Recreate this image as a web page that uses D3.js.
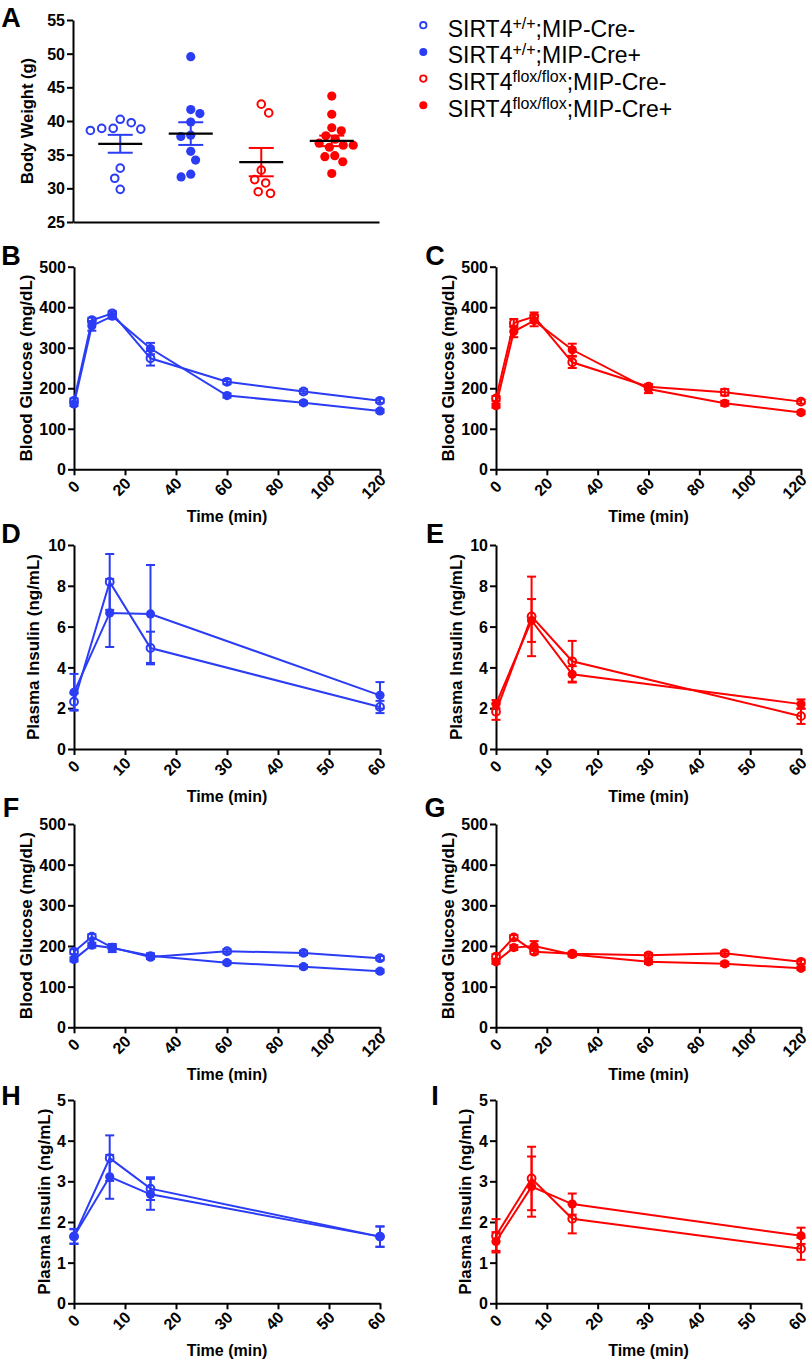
<!DOCTYPE html>
<html><head><meta charset="utf-8">
<script src="https://cdn.jsdelivr.net/npm/d3@7"></script>
<style>
body{margin:0;background:#fff;}
svg{display:block;font-family:"Liberation Sans",Arial,Helvetica,sans-serif;}
</style></head><body>
<svg id="chart" width="812" height="1365"></svg>
<script>
// ---------------- DATA ----------------
const groupNames = ["WT Cre-", "WT Cre+", "flox Cre-", "flox Cre+"];
const legendBase = ["SIRT4", "SIRT4", "SIRT4", "SIRT4"];
const legendSup  = ["+/+", "+/+", "flox/flox", "flox/flox"];
const legendTail = [";MIP-Cre-", ";MIP-Cre+", ";MIP-Cre-", ";MIP-Cre+"];

// Panel A body weight (g)
const bwWTCreNeg = [40.25, 39.75, 38.9, 38.6, 38.8, 38.9, 33.0, 31.5, 29.85];
const bwWTCrePos = [49.55, 41.1, 41.7, 39.85, 37.7, 37.9, 35.5, 34.2, 31.7, 32.1];
const bwFlCreNeg = [42.5, 41.2, 32.7, 30.8, 31.3, 29.25, 29.5];
const bwFlCrePos = [43.7, 41.0, 39.0, 38.55, 37.3, 37.8, 36.7, 36.4, 36.4, 36.1, 34.85, 34.7, 33.95, 32.2];
const bwTicks = [25, 30, 35, 40, 45, 50, 55];

// time points
const glucoseTime = [0, 7, 15, 30, 60, 90, 120];
const insulinTime = [0, 7, 15, 60];
const glucoseXTicks = [0, 20, 40, 60, 80, 100, 120];
const insulinXTicks = [0, 10, 20, 30, 40, 50, 60];
const glucoseYTicks = [0, 100, 200, 300, 400, 500];
const insulinYTicks10 = [0, 2, 4, 6, 8, 10];
const insulinYTicks5 = [0, 1, 2, 3, 4, 5];

// B: blood glucose, SIRT4+/+
const bOpenMean = [169, 368, 385, 274, 216, 192, 169];
const bOpenSem  = [6, 6, 5, 18, 6, 5, 5];
const bFillMean = [161, 354, 378, 298, 182, 164, 144];
const bFillSem  = [5, 12, 6, 14, 5, 4, 4];
// C: blood glucose, SIRT4flox/flox
const cOpenMean = [175, 361, 377, 264, 204, 190, 167];
const cOpenSem  = [6, 10, 10, 14, 6, 8, 5];
const cFillMean = [157, 340, 367, 295, 198, 163, 140];
const cFillSem  = [5, 14, 14, 15, 10, 6, 4];
// D: plasma insulin, SIRT4+/+
const dOpenMean = [2.32, 8.19, 4.95, 2.06];
const dOpenSem  = [0.4, 1.37, 0.8, 0.3];
const dFillMean = [2.78, 6.67, 6.62, 2.63];
const dFillSem  = [0.9, 1.67, 2.4, 0.65];
// E: plasma insulin, SIRT4flox/flox
const eOpenMean = [1.83, 6.5, 4.3, 1.61];
const eOpenSem  = [0.4, 1.95, 1.0, 0.38];
const eFillMean = [2.2, 6.3, 3.66, 2.2];
const eFillSem  = [0.2, 1.05, 0.4, 0.23];
// F: blood glucose, SIRT4+/+
const fOpenMean = [186, 223, 196, 173, 187, 183, 170];
const fOpenSem  = [6, 6, 5, 5, 5, 5, 5];
const fFillMean = [167, 202, 195, 176, 159, 149, 138];
const fFillSem  = [5, 6, 10, 6, 4, 4, 4];
// G: blood glucose, SIRT4flox/flox
const gOpenMean = [174, 221, 186, 181, 177, 182, 161];
const gOpenSem  = [6, 6, 6, 5, 5, 5, 5];
const gFillMean = [161, 196, 200, 179, 161, 156, 145];
const gFillSem  = [5, 6, 12, 5, 5, 5, 4];
// H: plasma insulin, SIRT4+/+
const hOpenMean = [1.64, 3.57, 2.82, 1.64];
const hOpenSem  = [0.18, 0.56, 0.28, 0.25];
const hFillMean = [1.65, 3.11, 2.68, 1.64];
const hFillSem  = [0.18, 0.54, 0.38, 0.25];
// I: plasma insulin, SIRT4flox/flox
const iOpenMean = [1.66, 3.07, 2.08, 1.34];
const iOpenSem  = [0.41, 0.78, 0.36, 0.27];
const iFillMean = [1.52, 2.87, 2.44, 1.66];
const iFillSem  = [0.23, 0.74, 0.26, 0.2];

// ---------------- STYLE / LAYOUT ----------------
const BLUE = "#2b3cf5", RED = "#ff0000";
const FONT = "'Liberation Sans', Arial, Helvetica, sans-serif";
const fmt = d3.format("d");
const svg = d3.select("#chart");
svg.append("rect").attr("width", 812).attr("height", 1365).attr("fill", "#fff");

function styleAxis(g) {
  g.attr("font-family", FONT).attr("font-size", 16).attr("font-weight", "bold");
  g.select(".domain").attr("stroke", "#000").attr("stroke-width", 2);
  g.selectAll(".tick line").attr("stroke", "#000").attr("stroke-width", 2);
  g.selectAll(".tick text").attr("fill", "#000");
}

function panelLetter(letter, x, y) {
  svg.append("text").attr("x", x).attr("y", y).attr("text-anchor", "middle")
    .attr("font-family", FONT).attr("font-weight", "bold").attr("font-size", 27)
    .attr("fill", "#000").text(letter);
}

function yTitle(text, x, y, size) {
  svg.append("text").attr("transform", `translate(${x},${y}) rotate(-90)`)
    .attr("text-anchor", "middle").attr("font-family", FONT).attr("font-weight", "bold")
    .attr("font-size", size).attr("fill", "#000").text(text);
}

// ---------------- PANEL A ----------------
const A = { x0: 73, x1: 379, yTop: 20, yBot: 222 };
const yA = d3.scaleLinear().domain([25, 55]).range([A.yBot, A.yTop]);
const xA = d3.scalePoint().domain(groupNames).range([A.x0, A.x1]).padding(0.67);

const gAy = svg.append("g").attr("transform", `translate(${A.x0},0)`)
  .call(d3.axisLeft(yA).tickValues(bwTicks).tickFormat(fmt).tickSize(6).tickPadding(2).tickSizeOuter(0));
styleAxis(gAy);
gAy.selectAll(".tick text").attr("dy", "0.35em");
const gAx = svg.append("g").attr("transform", `translate(0,${A.yBot})`)
  .call(d3.axisBottom(xA).tickSize(0).tickFormat("").tickSizeOuter(0));
styleAxis(gAx);

yTitle("Body Weight (g)", 33, (A.yTop + A.yBot) / 2, 16.5);
panelLetter("A", 11, 27);

function swarm(vals, ys, D) {
  const idx = d3.range(vals.length).sort((a, b) => ys(vals[a]) - ys(vals[b]));
  const placed = [];
  const off = new Array(vals.length).fill(0);
  let toggle = 1;
  for (const i of idx) {
    const y = ys(vals[i]);
    const intervals = [];
    for (const p of placed) {
      const dy = Math.abs(p.y - y);
      if (dy < D) {
        const h = Math.sqrt(D * D - dy * dy);
        intervals.push([p.x - h, p.x + h]);
      }
    }
    const cands = [0];
    intervals.forEach(iv => { cands.push(iv[0], iv[1]); });
    const ok = cands.filter(c => intervals.every(iv => c <= iv[0] + 1e-6 || c >= iv[1] - 1e-6));
    ok.sort((a, b) => {
      const d = Math.abs(a) - Math.abs(b);
      if (Math.abs(d) > 0.5) return d;
      return toggle * (b - a);
    });
    const x = ok[0];
    if (Math.abs(x) > 0.5) toggle = -toggle;
    off[i] = x;
    placed.push({ x, y });
  }
  return off;
}

const bwGroups = [
  { vals: bwWTCreNeg, color: BLUE, open: true },
  { vals: bwWTCrePos, color: BLUE, open: false },
  { vals: bwFlCreNeg, color: RED, open: true },
  { vals: bwFlCrePos, color: RED, open: false }
];
bwGroups.forEach((grp, gi) => {
  const cx = xA(groupNames[gi]);
  const offs = swarm(grp.vals, yA, grp.open ? 11.5 : 10);
  const gg = svg.append("g");
  gg.selectAll("circle").data(grp.vals).join("circle")
    .attr("cx", (d, i) => cx + offs[i]).attr("cy", d => yA(d))
    .attr("r", grp.open ? 3.8 : 4.6)
    .attr("fill", grp.open ? "none" : grp.color)
    .attr("stroke", grp.open ? grp.color : "none").attr("stroke-width", 2);
  const m = d3.mean(grp.vals);
  const sem = d3.deviation(grp.vals) / Math.sqrt(grp.vals.length);
  gg.append("line").attr("x1", cx).attr("x2", cx).attr("y1", yA(m - sem)).attr("y2", yA(m + sem))
    .attr("stroke", grp.color).attr("stroke-width", 2);
  [m - sem, m + sem].forEach(v => {
    gg.append("line").attr("x1", cx - 12.5).attr("x2", cx + 12.5).attr("y1", yA(v)).attr("y2", yA(v))
      .attr("stroke", grp.color).attr("stroke-width", 2);
  });
  gg.append("line").attr("x1", cx - 22).attr("x2", cx + 22).attr("y1", yA(m)).attr("y2", yA(m))
    .attr("stroke", "#000").attr("stroke-width", 2.2);
});

// ---------------- LEGEND ----------------
const legendColors = [BLUE, BLUE, RED, RED];
const legendOpen = [true, false, true, false];
legendBase.forEach((b, i) => {
  const by = 36.7 + i * 26.7;
  svg.append("circle").attr("cx", 423.3).attr("cy", by - 11.5)
    .attr("r", legendOpen[i] ? 3.2 : 4)
    .attr("fill", legendOpen[i] ? "none" : legendColors[i])
    .attr("stroke", legendOpen[i] ? legendColors[i] : "none").attr("stroke-width", 1.8);
  const t = svg.append("text").attr("x", 447.7).attr("y", by)
    .attr("font-family", FONT).attr("font-size", 23).attr("fill", "#000");
  t.append("tspan").text(b);
  t.append("tspan").attr("font-size", 16).attr("dy", -8).text(legendSup[i]);
  t.append("tspan").attr("font-size", 23).attr("dy", 8).text(legendTail[i]);
});

// ---------------- LINE PANELS ----------------
const COLS = [{ x0: 74, x1: 380, letterX: 11 }, { x0: 496, x1: 801, letterX: 435 }];
const ROWS = [
  { top: 266.7, bot: 469.3, letterY: 265 },
  { top: 545, bot: 749, letterY: 543 },
  { top: 824, bot: 1027.3, letterY: 817 },
  { top: 1100, bot: 1303.3, letterY: 1105 }
];

const panels = [
  { letter: "B", row: 0, col: 0, color: BLUE, time: glucoseTime, xTicks: glucoseXTicks, yMax: 500, yTicks: glucoseYTicks,
    title: "Blood Glucose (mg/dL)", titleOff: 42, open: [bOpenMean, bOpenSem], fill: [bFillMean, bFillSem] },
  { letter: "C", row: 0, col: 1, color: RED, time: glucoseTime, xTicks: glucoseXTicks, yMax: 500, yTicks: glucoseYTicks,
    title: "Blood Glucose (mg/dL)", titleOff: 42, open: [cOpenMean, cOpenSem], fill: [cFillMean, cFillSem] },
  { letter: "D", row: 1, col: 0, color: BLUE, time: insulinTime, xTicks: insulinXTicks, yMax: 10, yTicks: insulinYTicks10,
    title: "Plasma Insulin (ng/mL)", titleOff: 35, open: [dOpenMean, dOpenSem], fill: [dFillMean, dFillSem] },
  { letter: "E", row: 1, col: 1, color: RED, time: insulinTime, xTicks: insulinXTicks, yMax: 10, yTicks: insulinYTicks10,
    title: "Plasma Insulin (ng/mL)", titleOff: 34, open: [eOpenMean, eOpenSem], fill: [eFillMean, eFillSem] },
  { letter: "F", row: 2, col: 0, color: BLUE, time: glucoseTime, xTicks: glucoseXTicks, yMax: 500, yTicks: glucoseYTicks,
    title: "Blood Glucose (mg/dL)", titleOff: 42, open: [fOpenMean, fOpenSem], fill: [fFillMean, fFillSem] },
  { letter: "G", row: 2, col: 1, color: RED, time: glucoseTime, xTicks: glucoseXTicks, yMax: 500, yTicks: glucoseYTicks,
    title: "Blood Glucose (mg/dL)", titleOff: 42, open: [gOpenMean, gOpenSem], fill: [gFillMean, gFillSem] },
  { letter: "H", row: 3, col: 0, color: BLUE, time: insulinTime, xTicks: insulinXTicks, yMax: 5, yTicks: insulinYTicks5,
    title: "Plasma Insulin (ng/mL)", titleOff: 24, open: [hOpenMean, hOpenSem], fill: [hFillMean, hFillSem] },
  { letter: "I", row: 3, col: 1, color: RED, time: insulinTime, xTicks: insulinXTicks, yMax: 5, yTicks: insulinYTicks5,
    title: "Plasma Insulin (ng/mL)", titleOff: 25, open: [iOpenMean, iOpenSem], fill: [iFillMean, iFillSem] }
];

panels.forEach(p => {
  const C = COLS[p.col], R = ROWS[p.row];
  const x = d3.scaleLinear().domain([0, d3.max(p.xTicks)]).range([C.x0, C.x1]);
  const y = d3.scaleLinear().domain([0, p.yMax]).range([R.bot, R.top]);

  const gy = svg.append("g").attr("transform", `translate(${C.x0},0)`)
    .call(d3.axisLeft(y).tickValues(p.yTicks).tickFormat(fmt).tickSize(6).tickPadding(2).tickSizeOuter(0));
  styleAxis(gy);
  gy.selectAll(".tick text").attr("dy", "0.35em");

  const gx = svg.append("g").attr("transform", `translate(0,${R.bot})`)
    .call(d3.axisBottom(x).tickValues(p.xTicks).tickFormat(fmt).tickSize(6).tickSizeOuter(0));
  styleAxis(gx);
  gx.selectAll(".tick text").each(function () {
    const t = d3.select(this);
    t.attr("y", null).attr("dy", null).attr("text-anchor", "middle").attr("dominant-baseline", "central");
    const w = this.getComputedTextLength();
    const ext = 0.7071 * (w / 2 + 5.75);
    t.attr("transform", `translate(${6.5 - ext},17.5) rotate(-45)`);
  });

  yTitle(p.title, C.x0 - p.titleOff, (R.top + R.bot) / 2, 17);
  svg.append("text").attr("x", (C.x0 + C.x1) / 2).attr("y", R.bot + 53)
    .attr("text-anchor", "middle").attr("font-family", FONT).attr("font-weight", "bold")
    .attr("font-size", 16).attr("fill", "#000").text("Time (min)");
  panelLetter(p.letter, C.letterX, R.letterY);

  const line = d3.line().x((d, i) => x(p.time[i])).y(d => y(d));
  const series = [
    { mean: p.open[0], sem: p.open[1], open: true },
    { mean: p.fill[0], sem: p.fill[1], open: false }
  ];
  series.forEach(s => {
    svg.append("path").datum(s.mean).attr("d", line)
      .attr("fill", "none").attr("stroke", p.color).attr("stroke-width", 2);
  });
  series.forEach(s => {
    const g = svg.append("g");
    s.mean.forEach((m, i) => {
      const xx = x(p.time[i]);
      const lo = y(m - s.sem[i]), hi = y(m + s.sem[i]);
      g.append("line").attr("x1", xx).attr("x2", xx).attr("y1", lo).attr("y2", hi)
        .attr("stroke", p.color).attr("stroke-width", 2);
      [lo, hi].forEach(yy => g.append("line").attr("x1", xx - 4.5).attr("x2", xx + 4.5)
        .attr("y1", yy).attr("y2", yy).attr("stroke", p.color).attr("stroke-width", 2));
    });
    g.selectAll("circle").data(s.mean).join("circle")
      .attr("cx", (d, i) => x(p.time[i])).attr("cy", d => y(d))
      .attr("r", s.open ? 3.9 : 4.6)
      .attr("fill", s.open ? "none" : p.color)
      .attr("stroke", s.open ? p.color : "none").attr("stroke-width", 2);
  });
});
</script></body></html>
